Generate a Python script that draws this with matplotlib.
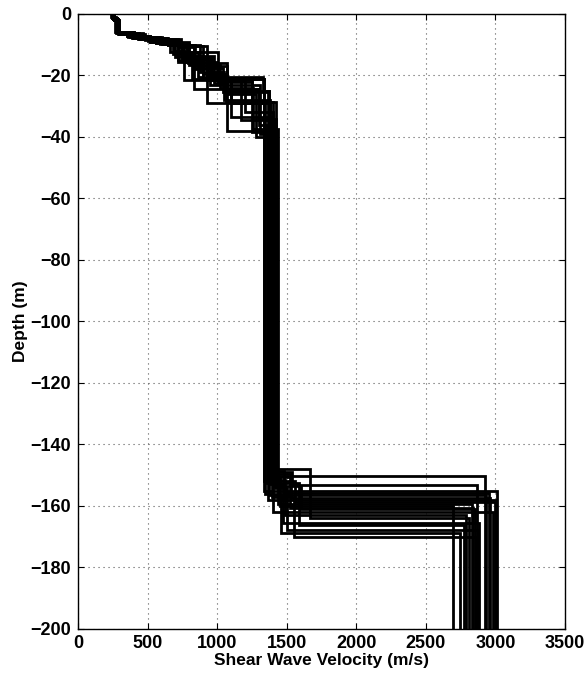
import matplotlib
matplotlib.use("Agg")
import matplotlib.pyplot as plt

# Shear wave velocity profiles (m/s) and layer bottom depths (m)
vs_01 = [245, 270, 380, 600, 700, 950, 1100, 1380, 2922]
z_01 = [1.2, 6.0, 7.5, 9.5, 14.0, 21.0, 29.0, 150.2, 200]
vs_02 = [255, 285, 420, 650, 760, 1000, 1250, 1400, 1540, 2870]
z_02 = [1.5, 6.2, 7.8, 10.0, 15.5, 21.5, 28.5, 149.0, 153.1, 200]
vs_03 = [240, 265, 350, 520, 680, 820, 1335, 3013]
z_03 = [1.0, 5.8, 7.2, 9.0, 13.0, 21.0, 155.0, 200]
vs_04 = [260, 290, 450, 700, 840, 1070, 1300, 1420, 1480, 2951]
z_04 = [2.0, 6.4, 8.2, 10.2, 17.0, 24.5, 34.0, 148.5, 155.7, 200]
vs_05 = [250, 275, 400, 560, 720, 900, 1340, 1560, 2999]
z_05 = [1.3, 6.0, 7.6, 9.4, 15.5, 21.0, 152.0, 158.6, 200]
vs_06 = [248, 280, 470, 740, 930, 1070, 1370, 1450, 2693]
z_06 = [1.4, 6.3, 8.0, 10.5, 20.0, 25.0, 151.0, 160.0, 200]
vs_07 = [252, 285, 360, 540, 800, 1005, 1250, 1430, 1520, 2836]
z_07 = [1.6, 6.1, 7.4, 9.2, 12.5, 22.0, 38.5, 150.5, 160.7, 200]
vs_08 = [246, 272, 390, 620, 780, 930, 1200, 1400, 2982]
z_08 = [1.1, 5.9, 7.7, 9.8, 14.5, 21.5, 32.0, 161.9, 200]
vs_09 = [258, 290, 440, 680, 880, 1050, 1380, 1470, 2881]
z_09 = [1.8, 6.2, 8.1, 10.2, 19.0, 28.0, 153.0, 165.4, 200]
vs_10 = [250, 282, 370, 580, 720, 830, 1300, 1360, 1590, 2777]
z_10 = [1.4, 6.0, 7.5, 9.5, 15.0, 24.5, 36.0, 152.5, 166.2, 200]
vs_11 = [244, 276, 410, 640, 790, 1070, 1280, 1415, 1500, 2872]
z_11 = [1.2, 6.1, 7.9, 9.9, 16.0, 26.0, 40.0, 154.0, 167.8, 200]
vs_12 = [262, 295, 480, 730, 830, 925, 1345, 1460, 2748]
z_12 = [2.0, 6.5, 8.3, 10.6, 18.0, 29.0, 156.0, 168.9, 200]
vs_13 = [254, 284, 380, 560, 740, 980, 1070, 1395, 1550, 2863]
z_13 = [1.5, 6.0, 7.6, 9.3, 13.8, 22.5, 38.0, 157.0, 170.2, 200]
vs_14 = [248, 280, 360, 520, 690, 760, 1100, 1385, 1670, 2808]
z_14 = [1.3, 5.9, 7.3, 9.0, 12.0, 21.5, 33.5, 148.0, 164.0, 200]
vs_15 = [256, 288, 430, 650, 830, 1040, 1365, 3007]
z_15 = [1.7, 6.2, 8.0, 10.0, 17.5, 25.5, 158.0, 200]
vs_16 = [250, 278, 395, 600, 785, 960, 1170, 1405, 1490, 2791]
z_16 = [1.3, 6.0, 7.7, 9.6, 14.0, 21.0, 34.5, 151.5, 163.0, 200]
vs_17 = [246, 274, 350, 500, 660, 860, 1330, 1375, 2934]
z_17 = [1.2, 5.8, 7.1, 8.8, 12.5, 20.5, 25.0, 156.5, 200]
vs_18 = [260, 292, 460, 720, 900, 1060, 1425, 1530, 2958]
z_18 = [1.9, 6.4, 8.2, 10.4, 19.5, 28.5, 149.5, 157.5, 200]
vs_19 = [252, 283, 375, 590, 750, 950, 1305, 1410, 1600, 2851]
z_19 = [1.5, 6.0, 7.5, 9.6, 15.0, 23.0, 39.0, 153.5, 161.0, 200]
vs_20 = [248, 279, 400, 610, 800, 1020, 1255, 1440, 2829]
z_20 = [1.3, 6.0, 7.8, 9.8, 16.5, 24.0, 37.5, 159.5, 200]

profiles = [
    (vs_01, z_01), (vs_02, z_02), (vs_03, z_03), (vs_04, z_04), (vs_05, z_05),
    (vs_06, z_06), (vs_07, z_07), (vs_08, z_08), (vs_09, z_09), (vs_10, z_10),
    (vs_11, z_11), (vs_12, z_12), (vs_13, z_13), (vs_14, z_14), (vs_15, z_15),
    (vs_16, z_16), (vs_17, z_17), (vs_18, z_18), (vs_19, z_19), (vs_20, z_20),
]

x_ticks = [0, 500, 1000, 1500, 2000, 2500, 3000, 3500]
y_ticks = [0, -20, -40, -60, -80, -100, -120, -140, -160, -180, -200]

plt.rcParams["font.family"] = ["Liberation Sans", "DejaVu Sans"]
plt.rcParams["font.weight"] = "bold"

fig = plt.figure(figsize=(5.84, 6.73), dpi=100)
ax = fig.add_axes([0.1336, 0.0654, 0.8339, 0.9138])

for vs, zb in profiles:
    xs, ys = [], []
    top = 0.0
    for v, b in zip(vs, zb):
        xs += [v, v]
        ys += [-top, -b]
        top = b
    ax.plot(xs, ys, color="black", linewidth=2.0, solid_joinstyle="miter")

ax.set_xlim(0, 3500)
ax.set_ylim(-200, 0)
ax.set_xticks(x_ticks)
ax.set_yticks(y_ticks)
ax.grid(True, color="0.35", linestyle=(0, (1, 3.5)), linewidth=0.8)
ax.set_axisbelow(True)

ax.tick_params(direction="in", length=4, width=0.8, top=True, right=True,
               labelsize=13)
ax.tick_params(axis="x", pad=4)
ax.tick_params(axis="y", pad=5)
for lab in ax.get_xticklabels() + ax.get_yticklabels():
    lab.set_fontweight("bold")
for s in ax.spines.values():
    s.set_linewidth(1.0)

ax.set_xlabel("Shear Wave Velocity (m/s)", fontsize=12.5, fontweight="bold", labelpad=1)
ax.set_ylabel("Depth (m)", fontsize=12.5, fontweight="bold", labelpad=2)

fig.savefig("out.png", dpi=100)
